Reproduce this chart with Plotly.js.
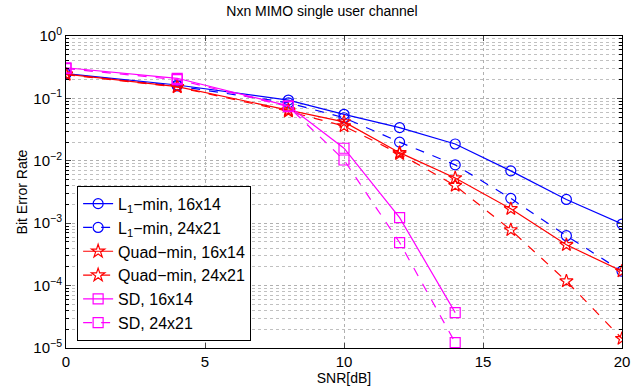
<!DOCTYPE html>
<html><head><meta charset="utf-8">
<script src="https://cdn.plot.ly/plotly-3.0.1.min.js"></script>
<style>body{margin:0;padding:0;background:#fff}#chart{width:644px;height:387px}</style>
</head><body><div id="chart"></div>
<script>
const snr = [0, 4, 8, 10, 12, 14, 16, 18, 20];
const snrSD = [0, 4, 8, 10, 12, 14];
const l1_16x14 = [0.25, 0.164, 0.094, 0.0556, 0.034, 0.0186, 0.0069, 0.0024, 0.00097];
const l1_24x21 = [0.245, 0.158, 0.085, 0.049, 0.0199, 0.0086, 0.0025, 0.00063, 0.00017];
const quad_16x14 = [0.245, 0.154, 0.065, 0.042, 0.0135, 0.0053, 0.0017, 0.00045, 0.00017];
const quad_24x21 = [0.24, 0.152, 0.062, 0.036, 0.0129, 0.0040, 0.00078, 0.000118, 0.0000141];
const sd_16x14 = [0.31, 0.21, 0.076, 0.0159, 0.00123, 0.0000369];
const sd_24x21 = [0.30, 0.20, 0.074, 0.0103, 0.00049, 0.0000122];
const yTickVals = [1, 0.1, 0.01, 0.001, 0.0001, 0.00001];
const yTickText = ['10<sup>0</sup>', '10<sup>−1</sup>', '10<sup>−2</sup>', '10<sup>−3</sup>', '10<sup>−4</sup>', '10<sup>−5</sup>'];

function tr(x, y, name, color, dash, symbol) {
  return {x: x, y: y, name: name, type: 'scatter', mode: 'lines+markers',
    line: {color: color, width: 1.2, dash: dash},
    marker: {symbol: symbol, size: 10, color: color, line: {color: color, width: 1.2}}};
}
const data = [
  tr(snr, l1_16x14, 'L<sub>1</sub>−min, 16x14', '#0000ff', 'solid', 'circle-open'),
  tr(snr, l1_24x21, 'L<sub>1</sub>−min, 24x21', '#0000ff', 'dash', 'circle-open'),
  tr(snr, quad_16x14, 'Quad−min, 16x14', '#ff0000', 'solid', 'star-open'),
  tr(snr, quad_24x21, 'Quad−min, 24x21', '#ff0000', 'dash', 'star-open'),
  tr(snrSD, sd_16x14, 'SD, 16x14', '#ff00ff', 'solid', 'square-open'),
  tr(snrSD, sd_24x21, 'SD, 24x21', '#ff00ff', 'dash', 'square-open')
];
const font = {family: 'Liberation Sans, Arial, sans-serif', size: 14, color: '#000'};
const layout = {
  width: 644, height: 387,
  margin: {l: 66, r: 22, t: 36, b: 39},
  paper_bgcolor: '#fff', plot_bgcolor: '#fff',
  font: font,
  showlegend: true,
  title: {text: 'Nxn MIMO single user channel', font: {size: 14, family: font.family}, x: 0.5, xanchor: 'center', y: 0.985, yanchor: 'top'},
  xaxis: {range: [0, 20], tickvals: [0, 5, 10, 15, 20], ticks: 'inside', ticklen: 5,
    showline: true, linecolor: '#000', linewidth: 1, mirror: 'ticks', zeroline: false,
    showgrid: true, gridcolor: '#b0b0b0', griddash: 'dot', gridwidth: 1,
    title: {text: 'SNR[dB]', font: {size: 14}, standoff: 2}, tickfont: {size: 15}},
  yaxis: {type: 'log', range: [-5, 0], tickvals: yTickVals, ticktext: yTickText,
    ticks: 'inside', ticklen: 5,
    showline: true, linecolor: '#000', linewidth: 1, mirror: 'ticks', zeroline: false,
    showgrid: true, gridcolor: '#b0b0b0', griddash: 'dot', gridwidth: 1,
    minor: {dtick: 'D1', showgrid: true, gridcolor: '#c0c0c0', griddash: 'dot', ticks: 'inside', ticklen: 3, tickcolor: '#000'},
    title: {text: 'Bit Error Rate', font: {size: 14}, standoff: 2}, tickfont: {size: 15}},
  legend: {x: 0.02, y: 0.52, xanchor: 'left', yanchor: 'top', bgcolor: '#fff',
    bordercolor: '#000', borderwidth: 1, font: {size: 16}, tracegroupgap: 0, itemwidth: 30}
};
Plotly.newPlot('chart', data, layout, {staticPlot: true});
</script></body></html>
